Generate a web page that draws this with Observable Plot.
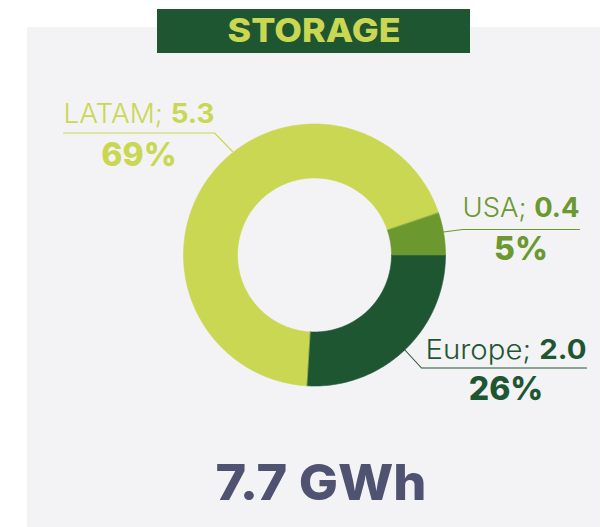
<!DOCTYPE html>
<html><head><meta charset="utf-8">
<script src="https://cdn.jsdelivr.net/npm/d3@7"></script>
<script src="https://cdn.jsdelivr.net/npm/@observablehq/plot@0.6"></script>
<style>html,body{margin:0;padding:0;background:#ffffff;}</style>
</head><body><div id="chart"></div>
<script>
// ---- data ----
const title = "STORAGE";
const regions = ["Europe", "LATAM", "USA"];
const values = [2.0, 5.3, 0.4];
const unit = "GWh";

// ---- styles ----
const colors = ["#1f5632", "#cad753", "#6b982f"];
const FONT = "Inter, Lato, sans-serif";

// ---- layout (pixels) ----
const W = 606, H = 527;
const donut = {cx: 314, cy: 254.5, ro: 131, ri: 77, startDeg: 90};
const panel = {x1: 27, x2: 600, y1: 27, y2: 527};
const titleBox = {x1: 157, x2: 470, y1: 9, y2: 53, base: 41, textWidth: 173};
const totalPos = {x: 320.5, base: 499, textWidth: 211};
const annot = {
  Europe: {pts: [[403, 348], [421, 367.5], [586, 367.5]], x1: 425, x2: 586, nameBase: 358.3, pctBase: 399.3},
  LATAM:  {pts: [[232, 151], [214, 132.5], [63, 132.5]],  x1: 63,  x2: 214, nameBase: 122.7, pctBase: 165},
  USA:    {pts: [[443, 231.5], [462, 229], [579, 229]],   x1: 462, x2: 579, nameBase: 216.7, pctBase: 259.3}
};

// ---- derived ----
const total = d3.sum(values);
const pies = d3.pie().sort(null).value(d => d)
  .startAngle(donut.startDeg * Math.PI / 180)
  .endAngle((donut.startDeg + 360) * Math.PI / 180)(values);

const slicePts = [];
pies.forEach((p, i) => {
  const n = Math.max(6, Math.ceil((p.endAngle - p.startAngle) * 180 / Math.PI));
  for (let k = 0; k <= n; k++) {
    const a = p.startAngle + (p.endAngle - p.startAngle) * k / n;
    slicePts.push({region: regions[i], x: donut.cx + donut.ro * Math.sin(a), y: donut.cy - donut.ro * Math.cos(a)});
  }
  for (let k = n; k >= 0; k--) {
    const a = p.startAngle + (p.endAngle - p.startAngle) * k / n;
    slicePts.push({region: regions[i], x: donut.cx + donut.ri * Math.sin(a), y: donut.cy - donut.ri * Math.cos(a)});
  }
});

const leaderPts = [];
regions.forEach(r => annot[r].pts.forEach(([x, y]) => leaderPts.push({region: r, x, y})));

const labels = regions.map((r, i) => ({
  region: r,
  name: r + "; ",
  value: values[i].toFixed(1),
  pct: Math.round(values[i] / total * 100) + "%",
  ...annot[r]
}));

const chart = Plot.plot({
  width: W, height: H,
  margin: 0,
  style: {background: "transparent", overflow: "visible"},
  x: {type: "linear", domain: [0, W], range: [0, W], axis: null},
  y: {type: "linear", domain: [0, H], range: [0, H], axis: null},
  color: {domain: regions, range: colors},
  marks: [
    Plot.rect([panel], {x1: "x1", x2: "x2", y1: "y1", y2: "y2", fill: "#f3f3f5"}),
    Plot.line(slicePts, {x: "x", y: "y", z: "region", fill: "region", stroke: "region", strokeWidth: 0.6, curve: "linear-closed"}),
    Plot.line(leaderPts, {x: "x", y: "y", z: "region", stroke: "region", strokeWidth: 1.1}),
    Plot.text(labels, {x: "x1", y: "nameBase", text: d => d.name + d.value, fill: "region", textAnchor: "start", lineAnchor: "bottom", fontSize: 27, fontWeight: 300, fontFamily: FONT, ariaLabel: () => "region-label"}),
    Plot.text(labels, {x: d => (d.x1 + d.x2) / 2, y: "pctBase", text: "pct", fill: "region", textAnchor: "middle", lineAnchor: "bottom", fontSize: 32, fontWeight: 800, fontFamily: FONT}),
    Plot.rect([titleBox], {x1: "x1", x2: "x2", y1: "y1", y2: "y2", fill: "#1f5632"}),
    Plot.text([titleBox], {x: d => (d.x1 + d.x2) / 2, y: "base", text: () => title, fill: "#cad753", textAnchor: "middle", lineAnchor: "bottom", fontSize: 33, fontWeight: 800, fontFamily: FONT, ariaLabel: () => "title-text"}),
    Plot.text([totalPos], {x: "x", y: "base", text: () => `${total.toFixed(1)} ${unit}`, fill: "#4f5270", textAnchor: "middle", lineAnchor: "bottom", fontSize: 50, fontWeight: 800, fontFamily: FONT, ariaLabel: () => "total-text"})
  ]
});

// mixed-weight region labels: light name + bold value, spanning the leader line
const svg = d3.select(chart);
svg.selectAll('text[aria-label="region-label"]').each(function(_, i) {
  const d = labels[i];
  const t = d3.select(this);
  t.text(null);
  t.append("tspan").attr("font-weight", 300).text(d.name);
  t.append("tspan").attr("font-weight", 700).text(d.value);
  t.attr("textLength", d.x2 - d.x1).attr("lengthAdjust", "spacingAndGlyphs");
});
svg.selectAll('text[aria-label="title-text"]').attr("textLength", titleBox.textWidth).attr("lengthAdjust", "spacingAndGlyphs");
svg.selectAll('text[aria-label="total-text"]').attr("textLength", totalPos.textWidth).attr("lengthAdjust", "spacingAndGlyphs");

document.getElementById("chart").appendChild(chart);
</script>
</body></html>
